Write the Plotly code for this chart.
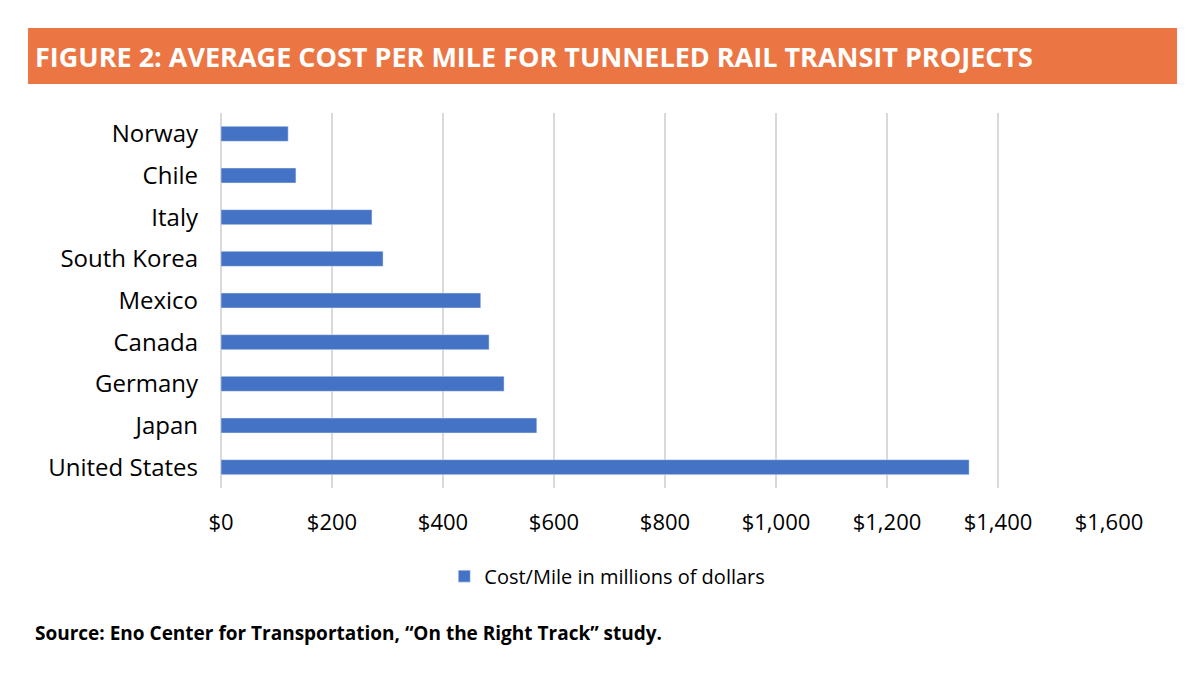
import plotly.graph_objects as go

countries = ["Norway", "Chile", "Italy", "South Korea", "Mexico",
             "Canada", "Germany", "Japan", "United States"]
cost_per_mile = [121, 135, 272, 292, 468, 483, 510, 569, 1348]
tick_vals = [0, 200, 400, 600, 800, 1000, 1200, 1400, 1600]
tick_text = ["$0", "$200", "$400", "$600", "$800", "$1,000", "$1,200", "$1,400", "$1,600"]

FONT = "Open Sans, Noto Sans, sans-serif"

fig = go.Figure(
    go.Bar(
        x=cost_per_mile,
        y=countries,
        orientation="h",
        name="Cost/Mile in millions of dollars",
        marker=dict(color="#4472C4"),
        width=0.36,
    )
)

fig.update_layout(
    width=1200,
    height=676,
    margin=dict(l=213, r=99, t=105, b=196),
    paper_bgcolor="white",
    plot_bgcolor="white",
    font=dict(family=FONT, color="#000000", size=22),
    showlegend=True,
    legend=dict(
        orientation="h",
        x=0.435, xanchor="center",
        y=-0.235, yanchor="middle",
        font=dict(size=20),
        itemwidth=30,
    ),
    xaxis=dict(
        range=[0, 1600],
        tickvals=tick_vals,
        ticktext=tick_text,
        tickfont=dict(size=22),
        showgrid=True,
        gridcolor="#D9D9D9",
        gridwidth=1.5,
        zeroline=True,
        zerolinecolor="#D9D9D9",
        showline=False,
        ticks="",
        ticklabelstandoff=19,
    ),
    yaxis=dict(
        autorange="reversed",
        tickfont=dict(size=24),
        showgrid=False,
        ticks="",
        ticklabelstandoff=22,
    ),
    shapes=[
        dict(type="rect", xref="paper", yref="paper",
             x0=-0.2173, x1=1.0766, y0=1.0773, y1=1.2267,
             fillcolor="#EC7643", line=dict(width=0), layer="below"),
    ],
    annotations=[
        dict(text="<b>FIGURE 2: AVERAGE COST PER MILE FOR TUNNELED RAIL TRANSIT PROJECTS</b>",
             xref="paper", yref="paper", x=-0.2117, y=1.152,
             xanchor="left", yanchor="middle", showarrow=False,
             font=dict(size=27, color="white", family=FONT)),
        dict(text="<b>Source: Eno Center for Transportation, \u201cOn the Right Track\u201d study.</b>",
             xref="paper", yref="paper", x=-0.2117, y=-0.387,
             xanchor="left", yanchor="middle", showarrow=False,
             font=dict(size=19, color="black", family=FONT)),
    ],
)

fig.write_html("out.html")
